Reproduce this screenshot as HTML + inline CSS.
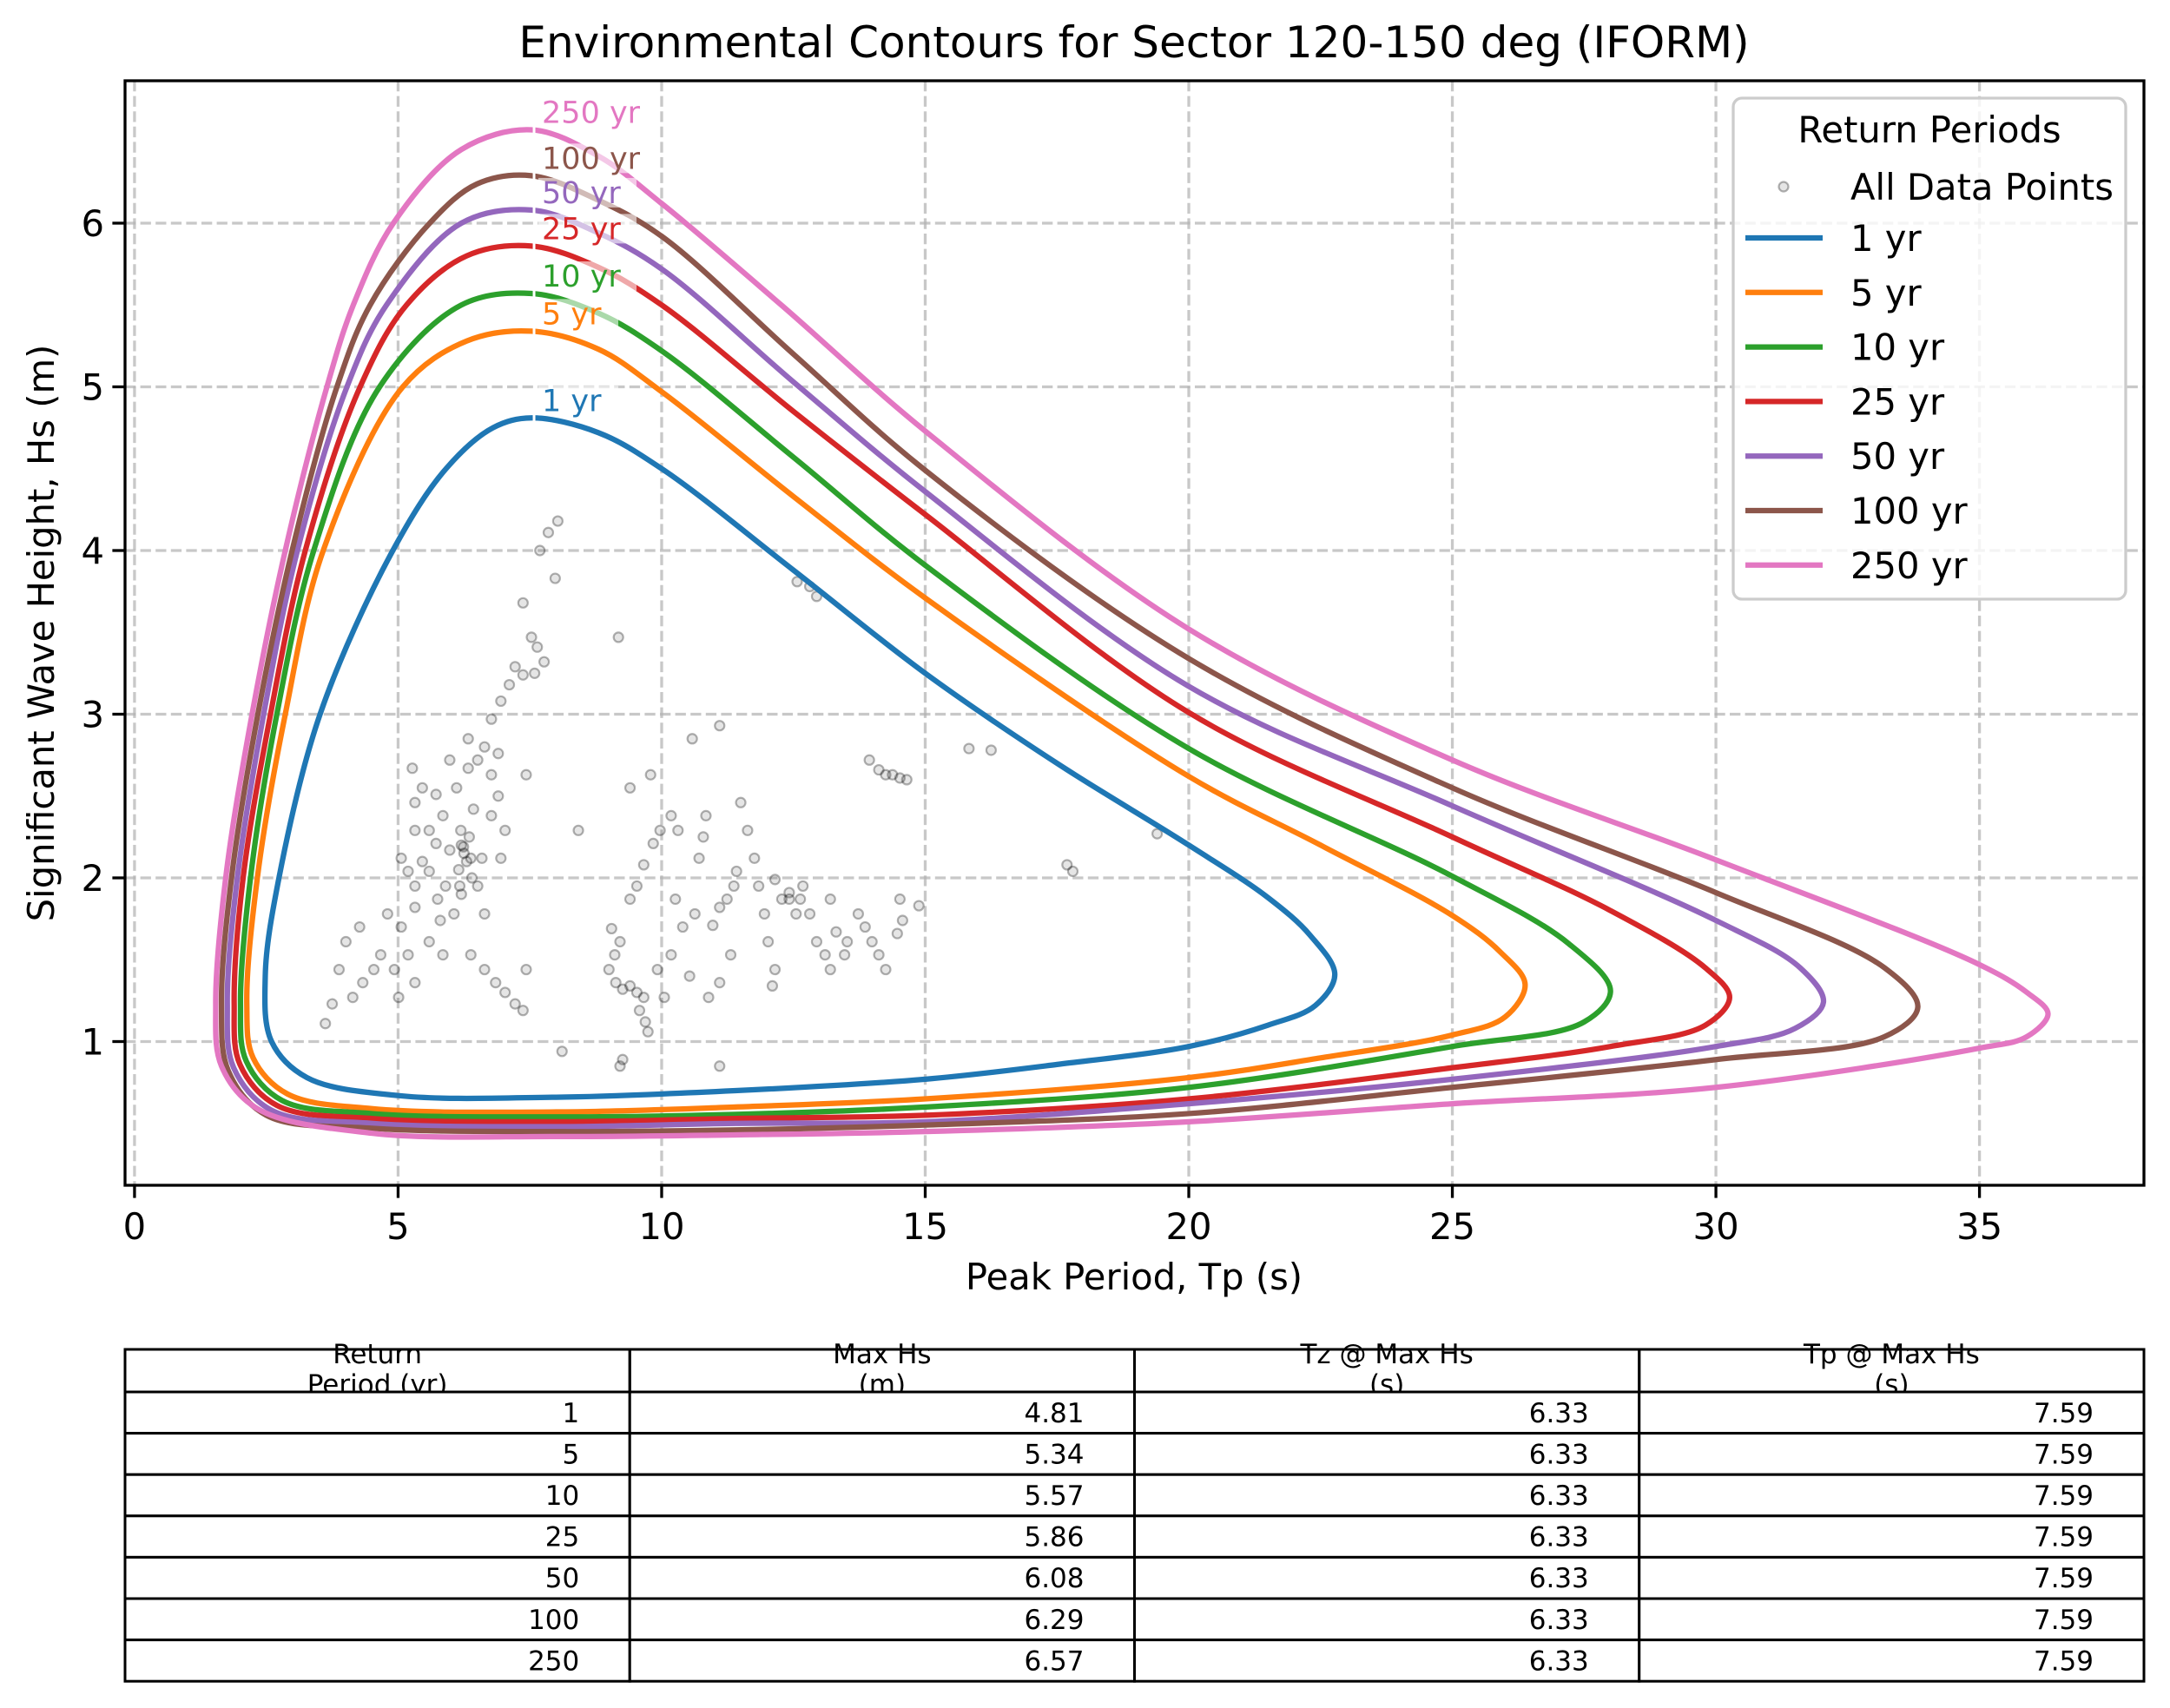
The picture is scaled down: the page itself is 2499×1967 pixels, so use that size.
<!DOCTYPE html>
<html><head><meta charset="utf-8"><style>
html,body{margin:0;padding:0;background:#fff}
svg{display:block;font-family:"DejaVu Sans","Liberation Sans",sans-serif}
</style></head><body>
<svg id="chart" xmlns="http://www.w3.org/2000/svg" width="2499" height="1967" viewBox="0 0 2499 1967">
<rect width="2499" height="1967" fill="#fff"/>
<text x="1306" y="66" text-anchor="middle" font-size="50">Environmental Contours for Sector 120-150 deg (IFORM)</text>
<g id="gridG"></g>
<g id="scatterG"></g>
<g id="contoursG"></g>
<g id="labelsG"></g>
<rect x="144" y="93" width="2325" height="1272" fill="none" stroke="#000" stroke-width="3.3"/>
<g id="ticksG"></g>
<text x="1306" y="1485" text-anchor="middle" font-size="41.7">Peak Period, Tp (s)</text>
<text x="62" y="729" text-anchor="middle" font-size="41.7" transform="rotate(-90 62 729)">Significant Wave Height, Hs (m)</text>
<g id="legendG"></g>
<g id="tableG"></g>
</svg>
<script>
const xTicks = [0,5,10,15,20,25,30,35];
const yTicks = [1,2,3,4,5,6];
const periods = ["1 yr","5 yr","10 yr","25 yr","50 yr","100 yr","250 yr"];
const colors = ["#1f77b4","#ff7f0e","#2ca02c","#d62728","#9467bd","#8c564b","#e377c2"];
const peakTp = 7.53;
const peakHs = [4.81,5.34,5.57,5.86,6.08,6.29,6.57];
const c1 = [[7.53,4.81],[8.8,4.72],[10,4.5],[12.5,3.88],[15,3.25],[17.5,2.7],[20,2.2],[21.5,1.88],[22.3,1.65],[22.77,1.41],[22.4,1.22],[21.5,1.1],[20,0.97],[17.5,0.86],[15,0.77],[11.4,0.7],[8,0.66],[5,0.67],[3.27,0.78],[2.6,1.0],[2.48,1.4],[2.74,2.0],[3.52,3.0],[4.9,4.0],[5.91,4.5],[6.8,4.75]];
const c5 = [[7.53,5.34],[8.8,5.23],[10,4.97],[12.5,4.33],[15,3.71],[20,2.62],[22.5,2.2],[25,1.77],[25.9,1.55],[26.38,1.35],[26,1.15],[25,1.04],[22.5,0.9],[20,0.78],[15,0.65],[11.4,0.6],[8,0.57],[4.5,0.59],[2.9,0.68],[2.25,0.9],[2.13,1.23],[2.33,2.0],[2.86,3.0],[3.58,4.0],[5.09,5.0],[6.3,5.28]];
const c10 = [[7.53,5.57],[8.8,5.45],[10,5.22],[12.5,4.57],[15,3.91],[20,2.79],[25,2.01],[27.2,1.6],[28.0,1.31],[27.5,1.12],[25,0.97],[20,0.72],[15,0.6],[11.4,0.555],[8,0.54],[4.5,0.56],[2.8,0.64],[2.12,0.88],[2.01,1.23],[2.2,2.0],[2.7,3.0],[3.4,4.0],[4.65,5.0],[6.2,5.5]];
const c25 = [[7.53,5.86],[8.8,5.73],[10,5.5],[12.5,4.85],[15,4.22],[20,3.01],[25,2.25],[28,1.8],[29.8,1.45],[30.26,1.27],[29.8,1.1],[28,0.97],[25,0.84],[20,0.65],[15,0.55],[11.4,0.53],[8,0.51],[4.5,0.53],[2.7,0.61],[2.0,0.86],[1.89,1.23],[2.06,2.0],[2.58,3.0],[3.24,4.0],[4.28,5.0],[5.16,5.5],[6.3,5.8]];
const c50 = [[7.53,6.08],[8.8,5.94],[10,5.72],[12.5,5.03],[15,4.36],[20,3.17],[25,2.44],[30,1.74],[31.6,1.45],[32.04,1.24],[31.5,1.08],[30,0.97],[25,0.77],[20,0.62],[15,0.51],[11.4,0.5],[8,0.48],[4.5,0.5],[2.6,0.58],[1.88,0.84],[1.76,1.23],[1.95,2.0],[2.45,3.0],[3.09,4.0],[4.03,5.0],[4.78,5.5],[6.2,6.0]];
const c100 = [[7.53,6.29],[8.8,6.14],[10,5.92],[12.5,5.2],[15,4.49],[20,3.34],[25,2.55],[30,1.91],[33.2,1.45],[33.83,1.21],[33.2,1.03],[30,0.89],[25,0.72],[20,0.56],[15,0.49],[11.4,0.46],[8,0.45],[4.5,0.47],[2.5,0.55],[1.78,0.82],[1.65,1.23],[1.84,2.0],[2.34,3.0],[2.99,4.0],[3.84,5.0],[4.47,5.5],[5.6,6.0],[6.5,6.24]];
const c250 = [[7.53,6.57],[8.8,6.41],[10,6.12],[12.27,5.5],[15,4.73],[20,3.52],[25,2.72],[30,2.11],[35,1.47],[35.9,1.3],[36.3,1.17],[35.9,1.03],[35,0.96],[30,0.72],[25,0.62],[20,0.51],[15,0.45],[11.4,0.43],[8,0.42],[4.5,0.44],[2.33,0.59],[1.65,0.85],[1.54,1.23],[1.73,2.0],[2.23,3.0],[2.86,4.0],[3.65,5.0],[4.15,5.5],[4.91,6.0],[6.2,6.45]];
const scatterTp = [8.03,7.85,7.69,7.98,7.37,7.53,7.64,7.22,7.37,7.11,7.59,7.77,6.77,6.95,6.64,6.9,6.51,6.33,6.11,6.77,6.43,5.85,6.19,5.72,5.98,5.32,5.46,5.27,5.59,5.9,6.24,6.38,6.51,5.75,6.06,5.32,5.06,5.59,5.85,5.19,4.93,5.32,5.01,4.67,4.8,4.54,4.33,4.14,3.75,3.62,3.88,4.01,4.27,5.32,5.59,5.19,6.9,7.03,6.95,6.64,6.38,6.64,6.85,7.03,7.22,7.37,7.43,6.59,6.17,5.8,5.46,5.06,5.98,6.33,6.77,5.32,5.72,6.2,6.25,6.3,6.15,6.35,6.2,6.4,9.0,9.13,9.26,9.4,9.53,9.66,9.58,9.69,9.74,9.05,9.21,9.11,9.4,9.53,9.66,9.84,9.97,10.18,10.31,10.26,10.4,10.18,10.05,9.92,10.53,10.63,10.71,10.79,10.84,10.97,11.1,11.24,11.37,11.42,11.31,11.1,10.89,11.5,11.63,11.76,11.84,11.95,12.02,12.15,12.1,12.28,12.42,12.55,12.68,12.81,12.94,13.1,13.2,13.2,13.31,13.47,13.52,8.42,9.18,9.4,10.58,11.1,9.79,11.1,9.26,9.21,8.11,7.43,12.57,12.81,12.94,13.94,14.12,14.25,14.38,14.52,14.65,15.83,16.25,17.69,17.8,19.4,12.15,12.42,12.63,13.73,13.86,13.99,14.12,14.25,14.52,14.47,14.57,14.88];
const scatterHs = [4.18,4.11,4.0,3.83,3.68,3.47,3.41,3.29,3.24,3.18,3.25,3.32,2.97,3.08,2.8,2.76,2.72,2.67,2.55,2.63,2.42,2.38,2.29,2.21,2.17,2.29,2.55,2.67,2.04,1.95,2.19,2.12,1.95,1.87,1.78,1.82,1.7,1.61,1.53,1.53,1.44,1.36,1.27,1.53,1.78,1.44,1.36,1.27,1.23,1.11,1.44,1.61,1.7,1.95,2.29,2.04,2.5,2.29,2.12,1.78,1.53,1.44,1.36,1.3,1.23,1.19,2.63,2.12,1.95,1.74,2.1,2.12,2.72,2.85,2.38,2.46,2.51,2.2,2.15,2.1,2.05,2.25,1.9,2.0,1.44,1.36,1.32,1.34,1.3,1.27,1.19,1.12,1.06,1.69,1.61,1.53,1.87,1.95,2.08,2.21,2.29,2.38,2.29,1.87,1.7,1.53,1.27,1.44,1.4,1.78,2.12,2.25,2.38,1.71,1.82,1.87,1.95,2.04,1.53,1.36,1.27,2.46,2.29,2.12,1.95,1.78,1.61,1.44,1.34,1.87,1.87,1.78,1.95,1.78,1.61,1.53,1.87,1.44,1.67,1.53,1.61,2.29,3.47,2.55,2.85,2.93,2.63,0.85,0.89,0.85,0.94,1.44,3.81,3.78,3.72,2.72,2.66,2.63,2.63,2.61,2.6,2.79,2.78,2.08,2.04,2.27,1.99,1.91,1.87,1.78,1.7,1.61,1.53,1.44,1.87,1.66,1.74,1.83];
const tableHeaders = [["Return","Period (yr)"],["Max Hs","(m)"],["Tz @ Max Hs","(s)"],["Tp @ Max Hs","(s)"]];
const tablePeriods = ["1","5","10","25","50","100","250"];
const tableMaxHs = ["4.81","5.34","5.57","5.86","6.08","6.29","6.57"];
const tableTz = ["6.33","6.33","6.33","6.33","6.33","6.33","6.33"];
const tableTp = ["7.59","7.59","7.59","7.59","7.59","7.59","7.59"];

const NS="http://www.w3.org/2000/svg";
const xmin=-0.18,xmax=38.12,ymin=0.122,ymax=6.87;
const PL=144,PR=2469,PT=93,PB=1365;
function X(v){return PL+(v-xmin)/(xmax-xmin)*(PR-PL);}
function Y(v){return PB-(v-ymin)/(ymax-ymin)*(PB-PT);}
function mk(tag,attrs,parent){const e=document.createElementNS(NS,tag);for(const k in attrs)e.setAttribute(k,attrs[k]);parent.appendChild(e);return e;}

const gridEl=document.getElementById('gridG');
xTicks.forEach(t=>{const l=mk('line',{x1:X(t),x2:X(t),y1:PT,y2:PB,stroke:'#b0b0b0','stroke-opacity':0.7,'stroke-width':3.3,'stroke-dasharray':'12.3,5.3'},gridEl);

});
yTicks.forEach(t=>{const l=mk('line',{x1:PL,x2:PR,y1:Y(t),y2:Y(t),stroke:'#b0b0b0','stroke-opacity':0.7,'stroke-width':3.3,'stroke-dasharray':'12.3,5.3'},gridEl);

});

const scEl=document.getElementById('scatterG');
scatterTp.forEach((t,i)=>{const c=mk('circle',{cx:X(t),cy:Y(scatterHs[i]),r:5.5,fill:'rgba(0,0,0,0.1)',stroke:'rgba(0,0,0,0.3)','stroke-width':2.2},scEl);

});

function smoothClosed(pts){
  const p=pts.map(q=>[X(q[0]),Y(q[1])]);const n=p.length;let d=`M${p[0][0]},${p[0][1]}`;
  const dist=(a,b)=>Math.max(1e-6,Math.pow(Math.hypot(a[0]-b[0],a[1]-b[1]),0.5));
  for(let i=0;i<n;i++){const p0=p[(i-1+n)%n],p1=p[i],p2=p[(i+1)%n],p3=p[(i+2)%n];
    const d1=dist(p0,p1),d2=dist(p1,p2),d3=dist(p2,p3);
    const a=[0,1].map(k=>(d1*d1*p2[k]-d2*d2*p0[k]+(2*d1*d1+3*d1*d2+d2*d2)*p1[k])/(3*d1*(d1+d2)));
    const b=[0,1].map(k=>(d3*d3*p1[k]-d2*d2*p3[k]+(2*d3*d3+3*d3*d2+d2*d2)*p2[k])/(3*d3*(d3+d2)));
    d+=` C${a[0]},${a[1]} ${b[0]},${b[1]} ${p2[0]},${p2[1]}`;}
  return d+'Z';
}
const contourList=[c1,c5,c10,c25,c50,c100,c250];
const cgEl=document.getElementById('contoursG');
contourList.forEach((c,i)=>{const p=mk('path',{d:smoothClosed(c),fill:'none',stroke:colors[i],'stroke-width':6.25,'stroke-linejoin':'round'},cgEl);

});

const lgEl=document.getElementById('labelsG');
peakHs.forEach((h,i)=>{
  const g=mk('line',{x1:X(peakTp)+3,x2:X(peakTp)+3,y1:Y(h)-6,y2:Y(h)+6,stroke:'#fff','stroke-width':3},lgEl);
  
  
  const w=periods[i].length*21+8;
  const r=mk('rect',{x:X(peakTp)+8,y:Y(h)-37,width:w,height:34,fill:'#fff','fill-opacity':0.6},lgEl);
  
  
  const t=mk('text',{x:X(peakTp)+12,y:Y(h)-8,'font-size':35,fill:colors[i]},lgEl);t.textContent=periods[i];
  
  
});

const tkEl=document.getElementById('ticksG');
xTicks.forEach(t=>{const l=mk('line',{x1:X(t),x2:X(t),y1:PB,y2:PB+14.6,stroke:'#000','stroke-width':3.3},tkEl);


const s=mk('text',{x:X(t),y:PB+62,'text-anchor':'middle','font-size':41.7},tkEl);s.textContent=t;

});
yTicks.forEach(t=>{const l=mk('line',{x1:PL-14.6,x2:PL,y1:Y(t),y2:Y(t),stroke:'#000','stroke-width':3.3},tkEl);


const s=mk('text',{x:PL-24,y:Y(t)+15,'text-anchor':'end','font-size':41.7},tkEl);s.textContent=t;

});

const leEl=document.getElementById('legendG');
const legBox=mk('rect',{x:1996,y:113,width:452,height:577,rx:10,fill:'#fff','fill-opacity':0.8,stroke:'#cccccc','stroke-width':3.3},leEl);


const legTitle=mk('text',{x:2222,y:164,'text-anchor':'middle','font-size':41.7},leEl);legTitle.textContent='Return Periods';


const legMark=mk('circle',{cx:2054,cy:215,r:5.5,fill:'rgba(0,0,0,0.1)',stroke:'rgba(0,0,0,0.3)','stroke-width':2.2},leEl);


const legData=mk('text',{x:2131,y:230,'font-size':41.7},leEl);legData.textContent='All Data Points';


periods.forEach((p,i)=>{const y=274+i*62.8;
const l=mk('line',{x1:2010,x2:2099,y1:y,y2:y,stroke:colors[i],'stroke-width':6.25},leEl);


const t=mk('text',{x:2131,y:y+15,'font-size':41.7},leEl);t.textContent=p;

});

const tbEl=document.getElementById('tableG');
const colW=(PR-PL)/4, tableTop=1554, hdrH=49, rowH=47.6;
const rowsData=[tablePeriods,tableMaxHs,tableTz,tableTp];
for(let c=0;c<4;c++){
  const x=PL+c*colW;
  tableHeaders[c].forEach((s,k)=>{const t=mk('text',{x:x+colW/2,y:tableTop+16+k*35,'text-anchor':'middle','font-size':31},tbEl);t.textContent=s;
  
  });
}
for(let c=0;c<4;c++){const x=PL+c*colW;
  const hl=mk('rect',{x:x,y:tableTop,width:colW,height:hdrH,fill:'none',stroke:'#000','stroke-width':3},tbEl);
  
  }
for(let r=0;r<tablePeriods.length;r++){
  const y=tableTop+hdrH+r*rowH;
  for(let c=0;c<4;c++){const x=PL+c*colW;
    const cell=mk('rect',{x:x,y:y,width:colW,height:rowH,fill:'#fff',stroke:'#000','stroke-width':3},tbEl);
    
    
    const t=mk('text',{x:x+colW-58,y:y+rowH/2+11,'text-anchor':'end','font-size':31},tbEl);t.textContent=rowsData[c][r];
    
    }
}
</script>
</body></html>
